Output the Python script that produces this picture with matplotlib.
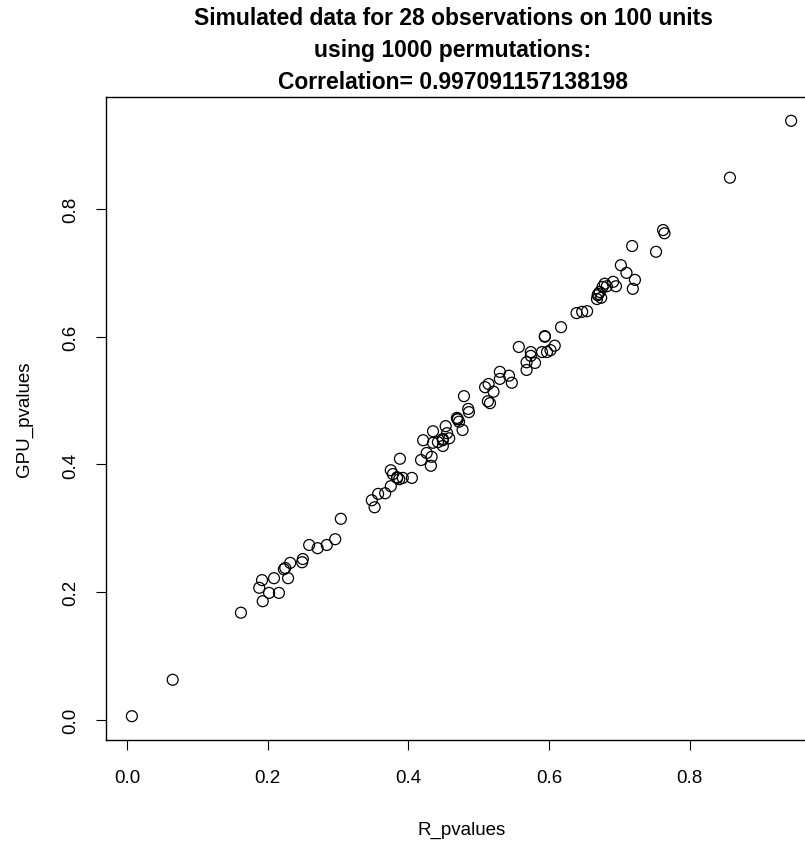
import matplotlib
matplotlib.use("Agg")
import matplotlib.pyplot as plt
import numpy as np

plt.rcParams['font.family'] = ['Liberation Sans', 'DejaVu Sans']

# p-values from the CPU (R) and GPU permutation runs
r_pvalues = [
    0.007, 0.065, 0.162, 0.193, 0.188, 0.192, 0.202, 0.216, 0.209, 0.229,
    0.223, 0.225, 0.232, 0.249, 0.250, 0.259, 0.271, 0.284, 0.296, 0.304,
    0.348, 0.352, 0.357, 0.367, 0.375, 0.375, 0.378, 0.384, 0.387, 0.392,
    0.405, 0.388, 0.418, 0.426, 0.433, 0.432, 0.421, 0.435, 0.435, 0.442,
    0.449, 0.453, 0.455, 0.458, 0.449, 0.469, 0.470, 0.472, 0.477, 0.479,
    0.485, 0.486, 0.509, 0.514, 0.521, 0.513, 0.516, 0.530, 0.530, 0.543,
    0.547, 0.557, 0.574, 0.574, 0.568, 0.568, 0.580, 0.590, 0.597, 0.602,
    0.608, 0.594, 0.594, 0.617, 0.639, 0.647, 0.654, 0.668, 0.674, 0.669,
    0.672, 0.676, 0.679, 0.682, 0.691, 0.695, 0.702, 0.710, 0.722, 0.719,
    0.718, 0.752, 0.762, 0.764, 0.857, 0.944, 0.470, 0.384, 0.449, 0.670,
]
gpu_pvalues = [
    0.006, 0.063, 0.168, 0.186, 0.207, 0.219, 0.199, 0.199, 0.222, 0.222,
    0.236, 0.238, 0.246, 0.247, 0.252, 0.274, 0.269, 0.274, 0.283, 0.315,
    0.344, 0.333, 0.354, 0.355, 0.366, 0.391, 0.385, 0.379, 0.377, 0.379,
    0.379, 0.409, 0.407, 0.418, 0.412, 0.398, 0.438, 0.452, 0.434, 0.435,
    0.429, 0.460, 0.449, 0.441, 0.440, 0.473, 0.471, 0.467, 0.454, 0.507,
    0.487, 0.482, 0.521, 0.526, 0.514, 0.499, 0.496, 0.545, 0.534, 0.539,
    0.528, 0.584, 0.576, 0.570, 0.560, 0.548, 0.559, 0.576, 0.576, 0.579,
    0.586, 0.601, 0.600, 0.615, 0.637, 0.639, 0.640, 0.659, 0.661, 0.665,
    0.670, 0.678, 0.683, 0.679, 0.686, 0.679, 0.712, 0.700, 0.689, 0.675,
    0.742, 0.733, 0.767, 0.762, 0.849, 0.938, 0.471, 0.380, 0.438, 0.667,
]
ticks = [0.0, 0.2, 0.4, 0.6, 0.8]
n_obs = 28
n_units = 100
n_perm = 1000
correlation = "0.997091157138198"

x = np.array(r_pvalues)
y = np.array(gpu_pvalues)

W, H = 805, 845
fig = plt.figure(figsize=(W / 100, H / 100), dpi=100)
ax = fig.add_axes([105.5 / W, 104 / H, 712 / W, 643 / H])

ax.scatter(x, y, s=62, facecolors='none', edgecolors='black', linewidths=0.9)

# R-style 4% padding around the data range
def pad(v):
    lo, hi = v.min(), v.max()
    d = (hi - lo) * 0.04
    return lo - d, hi + d

ax.set_xlim(*pad(x))
ax.set_ylim(*pad(y))
ax.set_xticks(ticks)
ax.set_yticks(ticks)
ax.set_xticklabels([f"{t:.1f}" for t in ticks])
ax.set_yticklabels([f"{t:.1f}" for t in ticks], rotation=90, va='center')
ax.tick_params(direction='out', length=7, width=0.8, labelsize=13.5)
ax.tick_params(axis='x', pad=14)
ax.tick_params(axis='y', pad=12)
for s in ax.spines.values():
    s.set_linewidth(1.0)

ax.set_xlabel("R_pvalues", fontsize=13.5, labelpad=25)
ax.set_ylabel("GPU_pvalues", fontsize=13.5, labelpad=21)

fig.text(453 / W, 1 - 7 / H,
         f"Simulated data for {n_obs} observations on {n_units} units\n"
         f"using {n_perm} permutations:\n"
         f"Correlation= {correlation}",
         ha='center', va='top', fontsize=16.5, fontweight='bold', linespacing=1.5)

fig.savefig("out.png", dpi=100)
